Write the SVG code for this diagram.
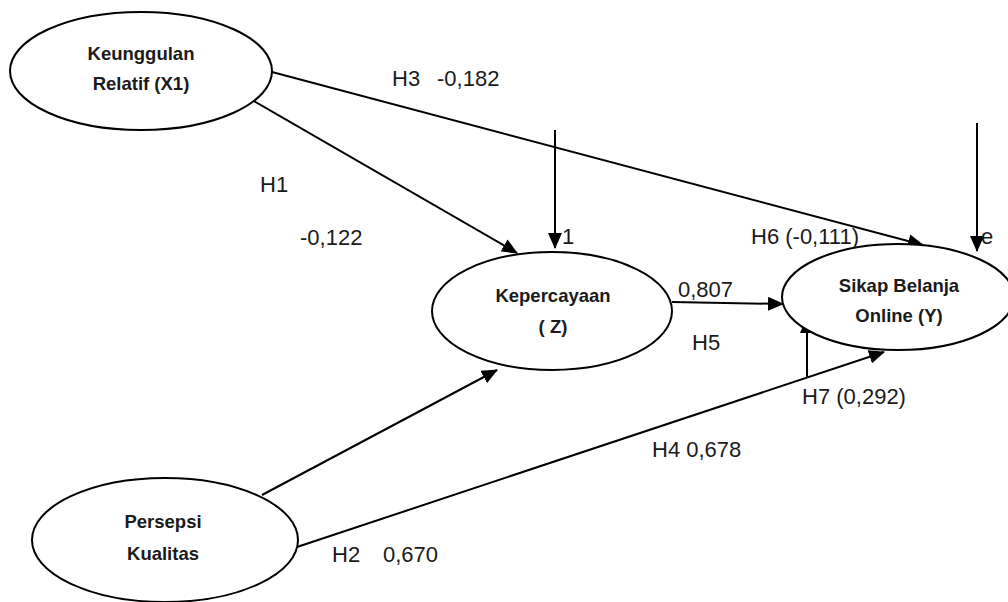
<svg xmlns="http://www.w3.org/2000/svg" width="1008" height="602" viewBox="0 0 1008 602">
<style>
.node{fill:#fff;stroke:#000;stroke-width:2}
.nt{font-family:"Liberation Sans",Arial,sans-serif;font-weight:bold;font-size:18.5px;text-anchor:middle;fill:#1a1a1a}
.lb{font-family:"Liberation Sans",Arial,sans-serif;font-size:22px;fill:#1a1a1a}
.ln{stroke:#000;stroke-width:2;fill:none}
</style>
<defs>
<marker id="ah" markerUnits="userSpaceOnUse" markerWidth="16" markerHeight="14" refX="15" refY="7" orient="auto">
<path d="M0,0 L16,7 L0,14 Z" fill="#000"/>
</marker>
</defs>
<rect width="1008" height="602" fill="#fff"/>
<g id="connectors">
<line class="ln" x1="252" y1="100" x2="517" y2="253" marker-end="url(#ah)"/>
<line class="ln" x1="272" y1="72" x2="923" y2="245" marker-end="url(#ah)"/>
<line class="ln" x1="555" y1="130" x2="555" y2="248" marker-end="url(#ah)"/>
<line class="ln" x1="977" y1="123" x2="977" y2="251" marker-end="url(#ah)"/>
<line class="ln" x1="672" y1="302" x2="783" y2="304" marker-end="url(#ah)"/>
<line class="ln" x1="262" y1="495" x2="497" y2="370" marker-end="url(#ah)"/>
<line class="ln" x1="297" y1="547" x2="884" y2="352" marker-end="url(#ah)"/>
<line class="ln" x1="807" y1="378" x2="807" y2="318" marker-end="url(#ah)"/>
</g>
<g id="node-x1">
<ellipse class="node" cx="141" cy="71" rx="131" ry="59"/>
<text class="nt" x="141" y="60">Keunggulan</text>
<text class="nt" x="141" y="90">Relatif (X1)</text>
</g>
<g id="node-z">
<ellipse class="node" cx="552" cy="311" rx="120" ry="59"/>
<text class="nt" x="553" y="302">Kepercayaan</text>
<text class="nt" x="553" y="333">( Z)</text>
</g>
<g id="node-y">
<ellipse class="node" cx="898" cy="297" rx="116" ry="53"/>
<text class="nt" x="899" y="292">Sikap Belanja</text>
<text class="nt" x="899" y="322">Online (Y)</text>
</g>
<g id="node-x2">
<ellipse class="node" cx="165" cy="540" rx="133" ry="62"/>
<text class="nt" x="163" y="528">Persepsi</text>
<text class="nt" x="163" y="560">Kualitas</text>
</g>
<g id="labels">
<text class="lb" x="392" y="86">H3<tspan x="437">-0,182</tspan></text>
<text class="lb" x="260" y="192">H1</text>
<text class="lb" x="300" y="245">-0,122</text>
<text class="lb" x="562" y="244">1</text>
<text class="lb" x="751" y="244">H6 (-0,111)</text>
<text class="lb" x="981" y="244">e</text>
<text class="lb" x="678" y="297">0,807</text>
<text class="lb" x="692" y="350">H5</text>
<text class="lb" x="802" y="404">H7 (0,292)</text>
<text class="lb" x="652" y="457">H4 0,678</text>
<text class="lb" x="332" y="562">H2<tspan x="383">0,670</tspan></text>
</g>
</svg>
